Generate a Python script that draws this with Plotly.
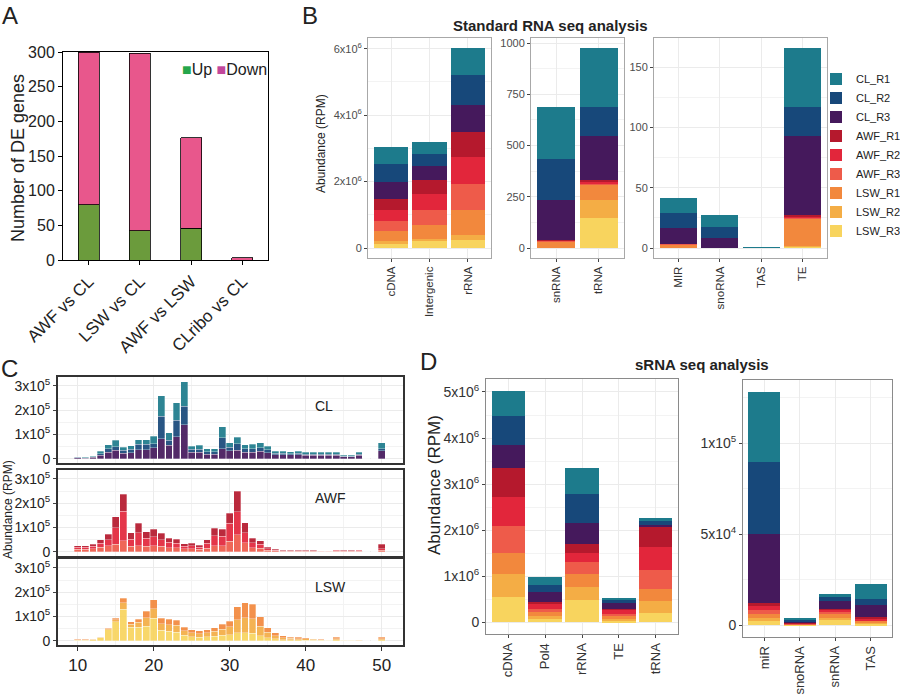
import plotly.graph_objects as go

# ---------------- data ----------------
series_names = ["CL_R1", "CL_R2", "CL_R3", "AWF_R1", "AWF_R2", "AWF_R3",
                "LSW_R1", "LSW_R2", "LSW_R3"]
series_colors = ["#1d7b8c", "#17487a", "#45195c", "#b5192d", "#e2263b",
                 "#ee5b4a", "#f2883d", "#f4ad45", "#f8d45e"]

# Panel A
a_categories = ["AWF vs CL", "LSW vs CL", "AWF vs LSW", "CLribo vs CL"]
a_up = [80, 42, 46, 0]
a_down = [220, 256, 130, 3]

# Panel B (values in series_names order)
b_left_categories = ["cDNA", "Intergenic", "rRNA"]
b_cdna = [0.51e6, 0.56e6, 0.50e6, 0.33e6, 0.35e6, 0.30e6, 0.30e6, 0.08e6, 0.12e6]
b_intergenic = [0.35e6, 0.37e6, 0.40e6, 0.43e6, 0.48e6, 0.45e6, 0.43e6, 0.04e6, 0.23e6]
b_rrna = [0.81e6, 0.90e6, 0.82e6, 0.75e6, 0.81e6, 0.78e6, 0.75e6, 0.17e6, 0.23e6]

b_mid_categories = ["snRNA", "tRNA"]
b_snrna = [252, 198, 196, 2, 2, 4, 32, 0, 0]
b_trna = [290, 141, 215, 5, 8, 8, 73, 90, 146]

b_right_categories = ["MIR", "snoRNA", "TAS", "TE"]
b_mir = [12.2, 12.7, 13.0, 0, 0, 0.3, 3.0, 0, 0]
b_snorna = [10.0, 8.9, 8.0, 0, 0, 0, 0.3, 0, 0]
b_tas = [0.2, 0.1, 0.1, 0, 0, 0, 0, 0, 0]
b_te = [49, 24.4, 65, 1.2, 1.5, 0.6, 23, 0.4, 1.0]

# Panel C (read length distributions, units of 1e5 RPM)
read_lengths = [10, 11, 12, 13, 14, 15, 16, 17, 18, 19, 20, 21, 22, 23, 24, 25,
                26, 27, 28, 29, 30, 31, 32, 33, 34, 35, 36, 37, 38, 39, 40, 41,
                42, 43, 44, 45, 46, 47, 48, 49, 50]
c_cl_r1 = [.02, .015, .03, .09, .17, .26, .14, .16, .19, .19, .30, .84, .30, .73, 1.02,
           .14, .16, .12, .12, .44, .17, .27, .17, .18, .19, .15, .08, .08, .07, .08,
           .07, .07, .07, .07, .07, .04, .04, .07, 0, 0, .25]
c_cl_r2 = [.02, .015, .02, .07, .14, .16, .12, .13, .22, .22, .17, .93, .21, .68, .76,
           .11, .12, .09, .09, .46, .16, .28, .14, .14, .16, .13, .05, .05, .05, .05,
           .04, .04, .04, .04, .04, .02, .02, .04, 0, 0, .09]
c_cl_r3 = [.03, .025, .05, .14, .27, .34, .22, .25, .37, .37, .45, .82, .55, .90, 1.40,
           .27, .27, .19, .19, .41, .32, .34, .27, .27, .30, .24, .17, .17, .16, .17,
           .15, .15, .15, .15, .15, .08, .08, .15, 0, 0, .32]
c_awf_r1 = [.07, .07, .08, .15, .22, .47, .70, .27, .40, .28, .30, .25, .18, .16, .10,
            .10, .08, .16, .32, .29, .41, .85, .42, .19, .15, .07, .03, .02, .02, .02,
            .01, .01, .01, .02, .03, .01, .01, .03, 0, 0, .18]
c_awf_r2 = [.08, .08, .10, .17, .25, .68, 1.21, .30, .52, .33, .37, .28, .21, .19, .12,
            .13, .09, .19, .40, .38, .75, .95, .41, .20, .16, .06, .03, .02, .02, .02,
            .02, .02, .01, .01, .03, .02, .02, .03, 0, 0, .07]
c_awf_r3 = [.10, .10, .12, .18, .25, .30, .45, .22, .25, .22, .25, .22, .17, .16, .11,
            .12, .09, .15, .25, .25, .43, .70, .36, .17, .14, .05, .03, .02, .02, .02,
            .02, .02, .01, .01, .02, .02, .02, .02, 0, 0, .05]
c_lsw_r1 = [.01, .01, .02, .03, .03, .06, .18, .10, .14, .27, .36, .22, .22, .21, .15,
            .12, .11, .12, .16, .20, .24, .53, .62, .61, .39, .20, .13, .09, .06, .06,
            .05, .03, .02, .015, .06, .015, .01, .01, 0, 0, .06]
c_lsw_r2 = [.02, .02, .02, .03, .04, .08, .27, .13, .20, .35, .40, .28, .28, .28, .18,
            .15, .14, .16, .20, .25, .32, .55, .62, .60, .40, .22, .13, .08, .06, .05,
            .05, .03, .02, .015, .05, .015, .01, .005, 0, 0, .05]
c_lsw_r3 = [.02, .02, .04, .11, .45, .78, 1.30, .55, .55, .60, .92, .42, .38, .35, .22,
            .17, .15, .16, .18, .22, .25, .32, .33, .30, .20, .12, .07, .04, .03, .03,
            .02, .02, .01, .01, .03, .01, .01, .005, 0, 0, .03]
c_unit = 1e5

# Panel D (values in series_names order)
d_left_categories = ["cDNA", "Pol4", "rRNA", "TE", "tRNA"]
d_cdna = [0.55e6, 0.62e6, 0.51e6, 0.62e6, 0.64e6, 0.59e6, 0.46e6, 0.48e6, 0.56e6]
d_pol4 = [0.17e6, 0.15e6, 0.22e6, 0.05e6, 0.10e6, 0.08e6, 0.08e6, 0.06e6, 0.08e6]
d_rrna = [0.56e6, 0.62e6, 0.45e6, 0.20e6, 0.19e6, 0.26e6, 0.30e6, 0.28e6, 0.48e6]
d_te = [0.05e6, 0.07e6, 0.12e6, 0.03e6, 0.09e6, 0.04e6, 0.06e6, 0.04e6, 0.04e6]
d_trna = [0.06e6, 0.09e6, 0.05e6, 0.43e6, 0.49e6, 0.42e6, 0.25e6, 0.26e6, 0.21e6]

d_right_categories = ["miR", "snoRNA", "snRNA", "TAS"]
d_mir = [38.7e3, 39.7e3, 37.7e3, 1.8e3, 1.8e3, 2.2e3, 2.2e3, 1.8e3, 2.4e3]
d_snorna = [0.3e3, 0.9e3, 1.0e3, 0.2e3, 0.2e3, 0.2e3, 0.3e3, 0.2e3, 0.2e3]
d_snrna = [1.9e3, 2.2e3, 4.2e3, 0.5e3, 1.3e3, 1.3e3, 1.8e3, 1.5e3, 2.7e3]
d_tas = [7.9e3, 3.6e3, 6.4e3, 1.1e3, 0.6e3, 0.5e3, 0.9e3, 0.6e3, 0.9e3]

# ---------------- helpers ----------------
W, H = 900, 696
FONT = "Arial, Liberation Sans, sans-serif"
GRID = "#ebebeb"


def fx(p):
    return p / W


def fy(p):
    return 1 - p / H


def exp_range(rows):
    top = max(sum(r) for r in rows)
    return [-0.05 * top, top * 1.05]


fig = go.Figure()

# ---------------- Panel A ----------------
fig.add_trace(go.Bar(x=a_categories, y=a_up, name="Up", width=0.41,
                     marker=dict(color="#6b9b3c", line=dict(color="black", width=0.8)),
                     xaxis="x", yaxis="y", showlegend=False))
fig.add_trace(go.Bar(x=a_categories, y=a_down, name="Down", width=0.41,
                     marker=dict(color="#e8578c", line=dict(color="black", width=0.8)),
                     xaxis="x", yaxis="y", showlegend=False))

# ---------------- Panel B ----------------
b_panels = [
    (b_left_categories, [b_cdna, b_intergenic, b_rrna], "x2", "y2", True),
    (b_mid_categories, [b_snrna, b_trna], "x3", "y3", False),
    (b_right_categories, [b_mir, b_snorna, b_tas, b_te], "x4", "y4", False),
]
for cats, rows, xa, ya, legend in b_panels:
    for i in range(len(series_names) - 1, -1, -1):
        fig.add_trace(go.Bar(x=cats, y=[r[i] for r in rows], name=series_names[i],
                             width=0.9, marker=dict(color=series_colors[i], line=dict(width=0)),
                             xaxis=xa, yaxis=ya, showlegend=legend))

# ---------------- Panel C ----------------
c_panels = [
    ([c_cl_r3, c_cl_r2, c_cl_r1], [2, 1, 0], "x5", "y5"),
    ([c_awf_r3, c_awf_r2, c_awf_r1], [5, 4, 3], "x6", "y6"),
    ([c_lsw_r3, c_lsw_r2, c_lsw_r1], [8, 7, 6], "x7", "y7"),
]
for arrs, idxs, xa, ya in c_panels:
    for arr, i in zip(arrs, idxs):
        fig.add_trace(go.Bar(x=read_lengths, y=[v * c_unit for v in arr],
                             name=series_names[i], width=0.9, opacity=0.92,
                             marker=dict(color=series_colors[i],
                                         line=dict(color="white", width=0.3)),
                             xaxis=xa, yaxis=ya, showlegend=False))

# ---------------- Panel D ----------------
d_panels = [
    (d_left_categories, [d_cdna, d_pol4, d_rrna, d_te, d_trna], "x8", "y8"),
    (d_right_categories, [d_mir, d_snorna, d_snrna, d_tas], "x9", "y9"),
]
for cats, rows, xa, ya in d_panels:
    for i in range(len(series_names) - 1, -1, -1):
        fig.add_trace(go.Bar(x=cats, y=[r[i] for r in rows], name=series_names[i],
                             width=0.9, marker=dict(color=series_colors[i], line=dict(width=0)),
                             xaxis=xa, yaxis=ya, showlegend=False))

# ---------------- axes ----------------
layout = dict(
    template="none",
    width=W, height=H, margin=dict(l=0, r=0, t=0, b=0, pad=0, autoexpand=False),
    paper_bgcolor="white", plot_bgcolor="white", barmode="stack",
    font=dict(family=FONT, color="#222"),
    showlegend=True,
    legend=dict(x=fx(816), y=fy(155), xanchor="left", yanchor="middle",
                traceorder="reversed", font=dict(size=11, color="#222"),
                bgcolor="rgba(0,0,0,0)", itemwidth=30, tracegroupgap=0,
                borderwidth=0),
)

# A axes
layout["xaxis"] = dict(domain=[fx(63), fx(268)], anchor="y", type="category",
                       range=[-0.5, 3.5], showgrid=False, showline=True, mirror=True,
                       linecolor="black", linewidth=1, ticks="outside", ticklen=4,
                       tickcolor="black", tickangle=-45, automargin=False,
                       tickfont=dict(size=17, color="#222"))
layout["yaxis"] = dict(domain=[fy(260), fy(52)], anchor="x", range=[0, 300],
                       tickmode="array", tickvals=[0, 50, 100, 150, 200, 250, 300],
                       showgrid=False, automargin=False,
                       zeroline=False, showline=True, mirror=True, linecolor="black",
                       linewidth=1, ticks="outside", ticklen=4, tickcolor="black",
                       tickfont=dict(size=16, color="#222"))


def panel_x(domain, anchor, ncat, size, linecolor):
    return dict(domain=domain, anchor=anchor, type="category", range=[-0.6, ncat - 0.4],
                showgrid=True, gridcolor=GRID, gridwidth=1, showline=True, mirror=True,
                linecolor=linecolor, linewidth=1, ticks="outside", ticklen=3,
                tickcolor="#444", tickangle=-90, automargin=False, zeroline=False,
                tickfont=dict(size=size, color="#333"))


def panel_y(domain, anchor, rng, vals, texts, minor, size, linecolor, lw=1, color="#4d4d4d"):
    return dict(domain=domain, anchor=anchor, range=rng, tickmode="array",
                tickvals=vals, ticktext=texts, showgrid=True, gridcolor=GRID,
                gridwidth=1, zeroline=False, showline=True, mirror=True,
                linecolor=linecolor, linewidth=lw, ticks="outside", ticklen=3,
                tickcolor="#444", tickfont=dict(size=size, color=color),
                automargin=False,
                minor=dict(tickmode="array", tickvals=minor, showgrid=True,
                           gridcolor="#f3f3f3", ticks=""))


bcol = "#a8a8a8"
layout["xaxis2"] = panel_x([fx(368), fx(491)], "y2", 3, 11.5, bcol)
layout["yaxis2"] = panel_y([fy(258), fy(38)], "x2", exp_range([b_cdna, b_intergenic, b_rrna]),
                           [0, 2e6, 4e6, 6e6],
                           ["0", "2x10<sup>6</sup>", "4x10<sup>6</sup>", "6x10<sup>6</sup>"],
                           [1e6, 3e6, 5e6], 11, bcol)
layout["xaxis3"] = panel_x([fx(531), fx(624)], "y3", 2, 11.5, bcol)
layout["yaxis3"] = panel_y([fy(258), fy(38)], "x3", exp_range([b_snrna, b_trna]),
                           [0, 250, 500, 750, 1000], ["0", "250", "500", "750", "1000"],
                           [125, 375, 625, 875], 11, bcol)
layout["xaxis4"] = panel_x([fx(654), fx(827)], "y4", 4, 11.5, bcol)
layout["yaxis4"] = panel_y([fy(258), fy(38)], "x4", exp_range([b_mir, b_snorna, b_tas, b_te]),
                           [0, 50, 100, 150], ["0", "50", "100", "150"],
                           [25, 75, 125], 11, bcol)

# C axes
c_rows = [(377, 463, "x5", "y5", "5"), (470, 556, "x6", "y6", "6"), (559, 645, "x7", "y7", "7")]
for top, bot, xa, ya, k in c_rows:
    last = (k == "7")
    layout["xaxis" + k] = dict(domain=[fx(58), fx(403)], anchor=ya, range=[7.4, 52.8],
                               tickmode="array", tickvals=[10, 20, 30, 40, 50],
                               showticklabels=last, ticks="outside" if last else "",
                               ticklen=4, tickcolor="#333", automargin=False,
                               tickfont=dict(size=17, color="#222"),
                               showgrid=True, gridcolor=GRID, zeroline=False,
                               showline=True, mirror=True, linecolor="#333", linewidth=2,
                               minor=dict(tickmode="array", tickvals=[15, 25, 35, 45],
                                          showgrid=True, gridcolor="#f3f3f3", ticks=""))
    layout["yaxis" + k] = panel_y([fy(bot), fy(top)], xa, [-0.18e5, 3.37e5],
                                  [0, 1e5, 2e5, 3e5],
                                  ["0", "1x10<sup>5</sup>", "2x10<sup>5</sup>", "3x10<sup>5</sup>"],
                                  [0.5e5, 1.5e5, 2.5e5], 14, "#333", lw=2, color="#222")

# D axes
dcol = "#8a8a8a"
layout["xaxis8"] = panel_x([fx(486), fx(678)], "y8", 5, 13, dcol)
layout["yaxis8"] = panel_y([fy(634), fy(379)], "x8",
                           exp_range([d_cdna, d_pol4, d_rrna, d_te, d_trna]),
                           [0, 1e6, 2e6, 3e6, 4e6, 5e6],
                           ["0", "1x10<sup>6</sup>", "2x10<sup>6</sup>", "3x10<sup>6</sup>",
                            "4x10<sup>6</sup>", "5x10<sup>6</sup>"],
                           [0.5e6, 1.5e6, 2.5e6, 3.5e6, 4.5e6], 14, dcol, color="#333")
layout["xaxis9"] = panel_x([fx(743), fx(892)], "y9", 4, 13, dcol)
layout["yaxis9"] = panel_y([fy(637), fy(380)], "x9",
                           exp_range([d_mir, d_snorna, d_snrna, d_tas]),
                           [0, 5e4, 1e5], ["0", "5x10<sup>4</sup>", "1x10<sup>5</sup>"],
                           [2.5e4, 7.5e4, 1.25e5], 14, dcol, color="#333")

fig.update_layout(**layout)

# ---------------- annotations ----------------
def ann(text, x, y, size, angle=0, xanchor="center", bold=False, color="#222"):
    fig.add_annotation(text=("<b>%s</b>" % text) if bold else text,
                       x=fx(x), y=fy(y), xref="paper", yref="paper",
                       xanchor=xanchor, yanchor="middle", showarrow=False,
                       textangle=angle, font=dict(size=size, color=color, family=FONT))


ann("A", 10, 15, 24)
ann("B", 310, 15, 24)
ann("C", 9, 368, 24)
ann("D", 428, 362, 24)
ann("Standard RNA seq analysis", 550, 25, 15, bold=True)
ann("sRNA seq analysis", 702, 364, 15, bold=True)
ann("Number of DE genes", 18, 158, 18, angle=-90)
ann("Abundance (RPM)", 321, 144, 12, angle=-90)
ann("Abundance (RPM)", 8, 510, 12, angle=-90)
ann("Abundance (RPM)", 434, 485, 17, angle=-90)
ann("CL", 313, 406, 14, xanchor="left")
ann("AWF", 313, 498, 14, xanchor="left")
ann("LSW", 313, 587, 14, xanchor="left")
ann('<span style="color:#25a64b">■</span>Up <span style="color:#c2479b">■</span>Down',
    180, 69, 16, xanchor="left")

fig.write_html("out.html", config={"displayModeBar": False},
               post_script="document.body.style.margin='0px';document.body.style.padding='0px';")
